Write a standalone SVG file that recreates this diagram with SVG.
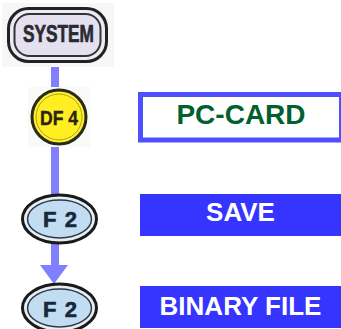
<svg xmlns="http://www.w3.org/2000/svg" width="341" height="329" viewBox="0 0 341 329">
<style>
.line{fill:#8080ff;stroke:none}
.key{font-family:"Liberation Sans",Arial,sans-serif;font-weight:bold;text-anchor:middle}
.lbl{font-family:"Liberation Sans",Arial,sans-serif;font-weight:bold;text-anchor:middle;font-size:26px;fill:#ffffff}
.bar{fill:#3535ff}
.f2o{fill:#e8eef2;stroke:#1a1a1a;stroke-width:3}
.f2i{fill:#c2dcf2;stroke:#2a3a4a;stroke-width:1.5}
.f2t{font-size:22px;fill:#17283a;stroke:#17283a;stroke-width:0.6}
</style>
<rect width="341" height="329" fill="#ffffff"/>
<g id="connectors">
<rect class="line" x="51" y="62" width="8" height="30"/>
<rect class="line" x="51" y="144" width="8" height="52"/>
<rect class="line" x="51" y="242" width="8" height="24"/>
<polygon class="line" points="40,265 68,265 54,284"/>
</g>
<g id="system">
<rect x="2" y="3" width="112" height="64" fill="#f7f7f8"/>
<rect x="8.5" y="8.5" width="98" height="53" rx="20" fill="#eeeaf4" stroke="#222" stroke-width="3"/>
<rect x="14.5" y="14" width="86" height="42" rx="15" fill="#e4e0f0" stroke="#333" stroke-width="2"/>
<text class="key" x="58.5" y="42" font-size="23" fill="#2a2a30" stroke="#2a2a30" stroke-width="0.7" textLength="71" lengthAdjust="spacingAndGlyphs">SYSTEM</text>
</g>
<g id="df4">
<rect x="28" y="87" width="62" height="60" fill="#f9f9f6"/>
<circle cx="59" cy="117" r="27" fill="#fff030" stroke="#2a2a1a" stroke-width="3"/>
<circle cx="59" cy="117" r="23" fill="#ffee22" stroke="#b0a020" stroke-width="1"/>
<text class="key" x="59" y="124.5" font-size="20" fill="#2a2410" stroke="#2a2410" stroke-width="0.4" textLength="38" lengthAdjust="spacingAndGlyphs">DF 4</text>
</g>
<g id="f2a">
<ellipse class="f2o" cx="59.5" cy="219" rx="37" ry="24"/>
<ellipse class="f2i" cx="59.5" cy="219" rx="32" ry="19"/>
<text class="key f2t" x="60" y="227" textLength="34" lengthAdjust="spacing">F 2</text>
</g>
<g id="f2b">
<ellipse class="f2o" cx="59.5" cy="308" rx="37" ry="24"/>
<ellipse class="f2i" cx="59.5" cy="308" rx="32" ry="19"/>
<text class="key f2t" x="60" y="317" textLength="34" lengthAdjust="spacing">F 2</text>
</g>
<g id="pccard">
<rect x="140.5" y="94.5" width="201" height="45.5" fill="#ffffff" stroke="#4f4fff" stroke-width="5"/>
<text class="key" x="241" y="124" font-size="28" fill="#006030">PC-CARD</text>
</g>
<g id="save">
<rect class="bar" x="140" y="194" width="201" height="42"/>
<text class="lbl" x="240.5" y="221">SAVE</text>
</g>
<g id="binary">
<rect class="bar" x="140" y="286" width="201" height="42"/>
<text class="lbl" x="240.5" y="315">BINARY FILE</text>
</g>
</svg>
